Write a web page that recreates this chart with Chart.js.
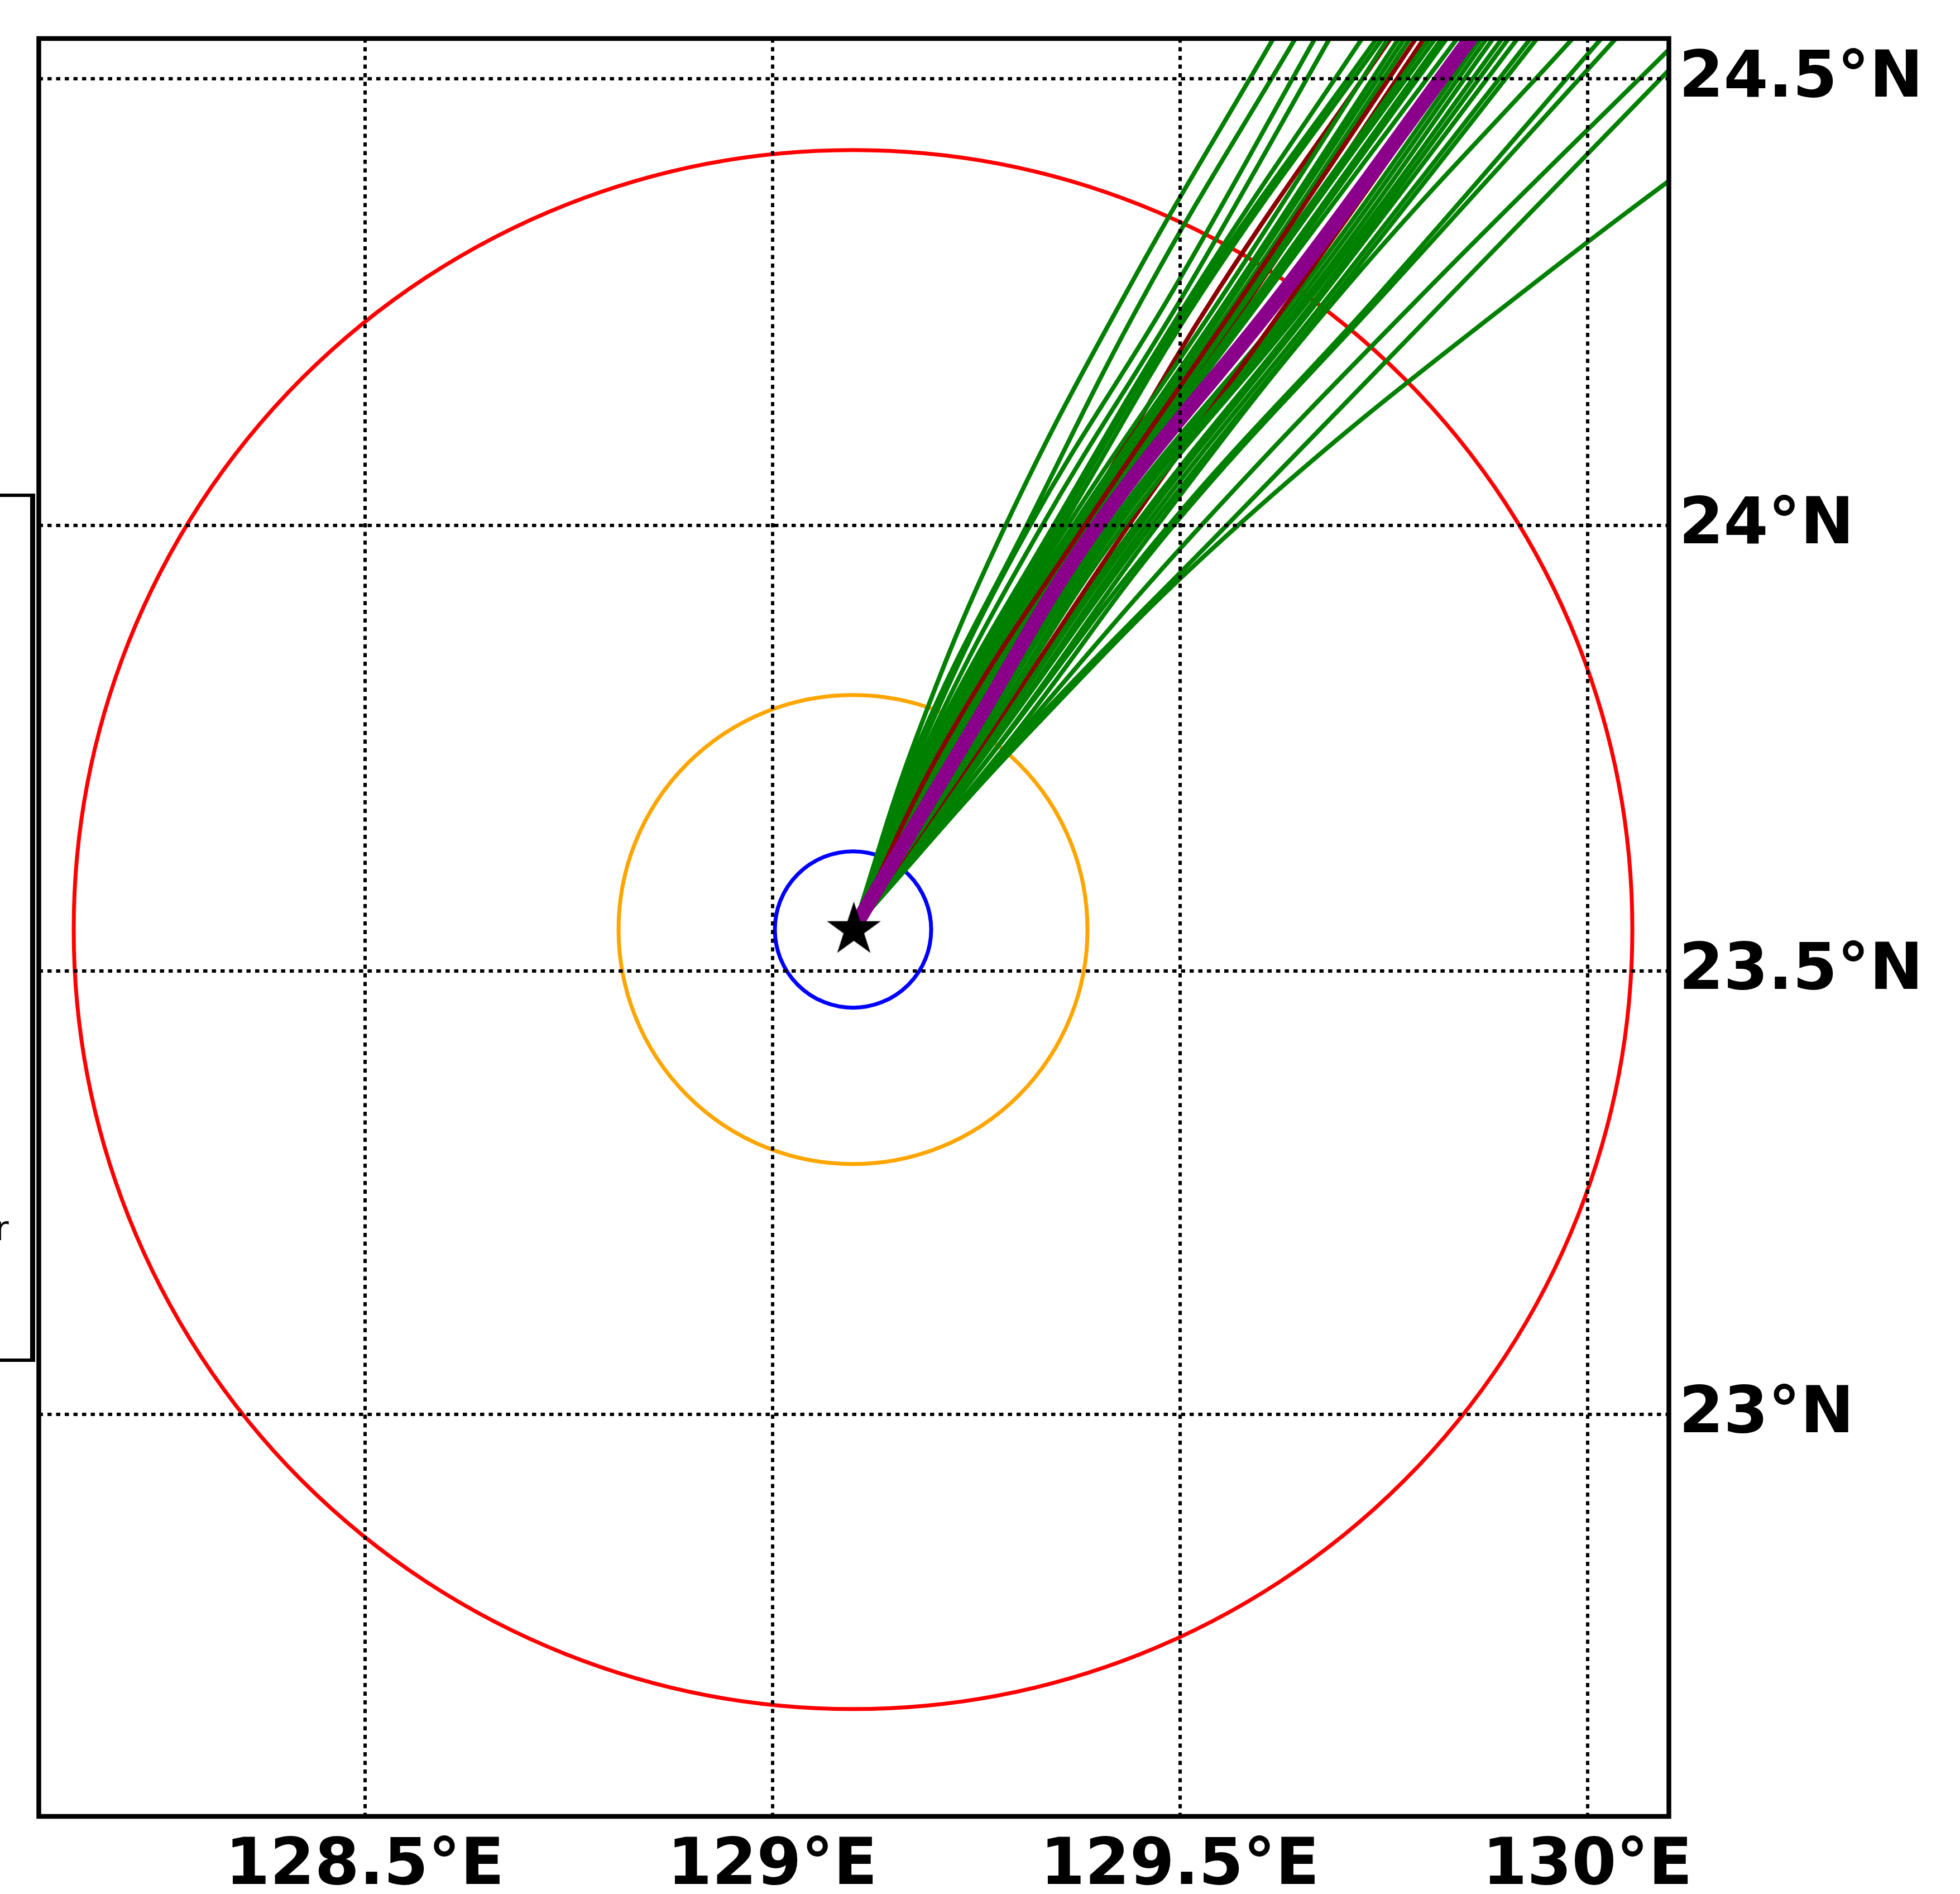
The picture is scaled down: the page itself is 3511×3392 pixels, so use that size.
<!DOCTYPE html>
<html>
<head>
<meta charset="utf-8">
<title>Track forecast</title>
<script src="https://cdn.jsdelivr.net/npm/chart.js@4"></script>
<style>
html,body{margin:0;padding:0;background:#fff;width:3511px;height:3392px;overflow:hidden;position:relative}
canvas{position:absolute;left:0;top:0}
#legendStub{position:absolute;left:-22px;top:884px;width:70px;height:1543px;border:6px solid #000;border-right-width:9px;box-sizing:content-box}
#legendText{position:absolute;left:-9px;top:2170px;font:60px/1 "DejaVu Sans";color:#000}
</style>
</head>
<body>
<div id="legendStub"></div>
<div id="legendText">r</div>
<canvas id="c" width="3511" height="3392" style="width:3511px;height:3392px"></canvas>
<script>
const trackLats = [23.548, 23.763, 24.0, 24.264, 24.547];

// Tick positions and labels
const lonTicks = [128.5, 129, 129.5, 130];
const lonLabels = ["128.5°E", "129°E", "129.5°E", "130°E"];
const latTicks = [23, 23.5, 24, 24.5];
const latLabels = ["23°N", "23.5°N", "24°N", "24.5°N"];
const lonRange = [128.1, 130.1];
const latRange = [22.545, 24.545];

// Storm position and radius rings
const starLon = [129.1];
const starLat = [23.546];
const ringLon = [129.099];
const ringLat = [23.5465];

// Ensemble members: longitude at each of trackLats
const member01 = [129.1, 129.177, 129.286, 129.436, 129.616];
const member02 = [129.1, 129.183, 129.312, 129.460, 129.643];
const member03 = [129.1, 129.188, 129.316, 129.492, 129.667];
const member04 = [129.1, 129.194, 129.331, 129.508, 129.685];
const member05 = [129.1, 129.199, 129.345, 129.518, 129.725];
const member06 = [129.1, 129.200, 129.350, 129.523, 129.743];
const member07 = [129.1, 129.201, 129.356, 129.529, 129.750];
const member08 = [129.1, 129.206, 129.362, 129.557, 129.757];
const member09 = [129.1, 129.207, 129.369, 129.566, 129.770];
const member10 = [129.1, 129.208, 129.375, 129.571, 129.777];
const member11 = [129.1, 129.210, 129.379, 129.578, 129.784];
const member12 = [129.1, 129.220, 129.388, 129.586, 129.808];
const member13 = [129.1, 129.223, 129.391, 129.591, 129.815];
const member14 = [129.1, 129.226, 129.393, 129.600, 129.823];
const member15 = [129.1, 129.229, 129.395, 129.604, 129.829];
const member16 = [129.1, 129.232, 129.396, 129.609, 129.842];
const member17 = [129.1, 129.249, 129.413, 129.648, 129.871];
const member18 = [129.1, 129.252, 129.418, 129.655, 129.878];
const member19 = [129.1, 129.258, 129.424, 129.662, 129.886];
const member20 = [129.1, 129.260, 129.431, 129.668, 129.897];
const member21 = [129.1, 129.268, 129.445, 129.675, 129.905];
const member22 = [129.1, 129.270, 129.451, 129.680, 129.916];
const member23 = [129.1, 129.276, 129.458, 129.689, 129.932];
const member24 = [129.1, 129.277, 129.465, 129.696, 129.940];
const member25 = [129.1, 129.285, 129.472, 129.701, 129.984];
const member26 = [129.1, 129.286, 129.486, 129.749, 130.019];
const member27 = [129.1, 129.295, 129.492, 129.755, 130.037];
const member28 = [129.1, 129.300, 129.526, 129.803, 130.116];
const member29 = [129.1, 129.305, 129.557, 129.838, 130.140];
const member30 = [129.1, 129.310, 129.571, 129.924, 130.340];

// Dark red tracks
const darkA = [129.1, 129.206, 129.373, 129.547, 129.760];
const darkB = [129.1, 129.216, 129.383, 129.582, 129.791];
const darkC = [129.1, 129.264, 129.437, 129.643, 129.862];
const darkD = [129.1, 129.236, 129.398, 129.593, 129.801];

// Thick mean track
const meanTrack = [129.1, 129.240, 129.399, 129.629, 129.858];

// Mercator projection of a latitude, as the map uses it
function merc(lat) {
  const r = Math.PI / 180;
  return Math.log(Math.tan(Math.PI / 4 + lat * r / 2)) / r;
}
function track(lons, color, width) {
  return {
    type: 'scatter', showLine: true, clip: 0,
    data: lons.map((lon, i) => ({x: lon, y: merc(trackLats[i])})),
    borderColor: color, backgroundColor: color, borderWidth: width,
    pointRadius: 0, tension: 0.4, borderCapStyle: 'butt', borderJoinStyle: 'round'
  };
}
function ring(color, radius) {
  return {
    type: 'scatter', clip: 0,
    data: [{x: ringLon[0], y: merc(ringLat[0])}],
    pointStyle: 'circle', pointRadius: radius, pointBorderWidth: 7,
    pointBorderColor: color, pointBackgroundColor: 'rgba(0,0,0,0)',
    borderColor: color, backgroundColor: 'rgba(0,0,0,0)'
  };
}

// Five-pointed marker glyph
const starGlyph = document.createElement('canvas');
starGlyph.width = 110; starGlyph.height = 110;
(function () {
  const g = starGlyph.getContext('2d');
  g.translate(55, 55);
  g.beginPath();
  for (let i = 0; i < 10; i++) {
    const R = i % 2 ? 19.4 : 50.7;
    const a = -Math.PI / 2 + i * Math.PI / 5;
    g[i ? 'lineTo' : 'moveTo'](R * Math.cos(a), R * Math.sin(a));
  }
  g.closePath();
  g.fillStyle = '#000';
  g.fill();
})();

const GREEN = '#008000', DARKRED = '#8b0000', PURPLE = '#8b008b';
const upperGreens = [member19, member20];
const lowerGreens = [member01, member02, member03, member04, member05, member06, member07, member08,
  member09, member10, member11, member12, member13, member14, member15, member16, member17, member18,
  member21, member22, member23, member24, member25, member26, member27, member28, member29, member30];

// The first dataset is painted last, so it sits on top
const datasets = [
  {type: 'scatter', clip: 0, data: [{x: starLon[0], y: merc(starLat[0])}], pointStyle: starGlyph, pointRadius: 50},
  track(meanTrack, PURPLE, 26),
  track(darkB, DARKRED, 8),
  ...upperGreens.map(m => track(m, GREEN, 8)),
  track(darkC, DARKRED, 8),
  ...lowerGreens.map(m => track(m, GREEN, 8)),
  track(darkA, DARKRED, 8),
  track(darkD, DARKRED, 8),
  ring('#0000ff', 140),
  ring('#ffa500', 420),
  ring('#ff0000', 1396)
];

const frame = {
  id: 'frame',
  afterDraw(chart) {
    const a = chart.chartArea, c = chart.ctx;
    c.save();
    c.strokeStyle = '#000';
    c.lineWidth = 8.5;
    c.strokeRect(a.left, a.top, a.right - a.left, a.bottom - a.top);
    c.restore();
  }
};

const tickFont = {family: '"DejaVu Sans"', weight: 'bold', size: 115};
const dots = {display: false, dash: [7.5, 8]};

new Chart(document.getElementById('c'), {
  type: 'scatter',
  data: {datasets},
  plugins: [frame],
  options: {
    responsive: false, animation: false, devicePixelRatio: 1,
    layout: {autoPadding: false, padding: {left: 69.5, top: 69, right: 0, bottom: 0}},
    plugins: {legend: {display: false}, tooltip: {enabled: false}},
    events: [],
    scales: {
      x: {
        type: 'linear', position: 'bottom', min: lonRange[0], max: lonRange[1],
        afterFit(s) { s.height = 3392 - 3253; s.paddingLeft = 0; s.paddingRight = 0; },
        afterBuildTicks(s) { s.ticks = lonTicks.map(v => ({value: v})); },
        grid: {color: '#000', lineWidth: 6, drawTicks: false, z: 1},
        border: dots,
        ticks: {
          color: '#000', font: tickFont, padding: 22, maxRotation: 0, autoSkip: false,
          callback: v => lonLabels[lonTicks.indexOf(v)]
        }
      },
      y: {
        type: 'linear', position: 'right', min: merc(latRange[0]), max: merc(latRange[1]),
        afterFit(s) { s.width = 3511 - 2989.5; s.paddingTop = 0; s.paddingBottom = 0; },
        afterBuildTicks(s) { s.ticks = latTicks.map(v => ({value: merc(v)})); },
        grid: {color: '#000', lineWidth: 6, drawTicks: false, z: 1},
        border: dots,
        ticks: {
          color: '#000', font: tickFont, padding: 18, labelOffset: 2, autoSkip: false,
          callback: (v, i) => latLabels[i]
        }
      }
    }
  }
});
</script>
</body>
</html>
